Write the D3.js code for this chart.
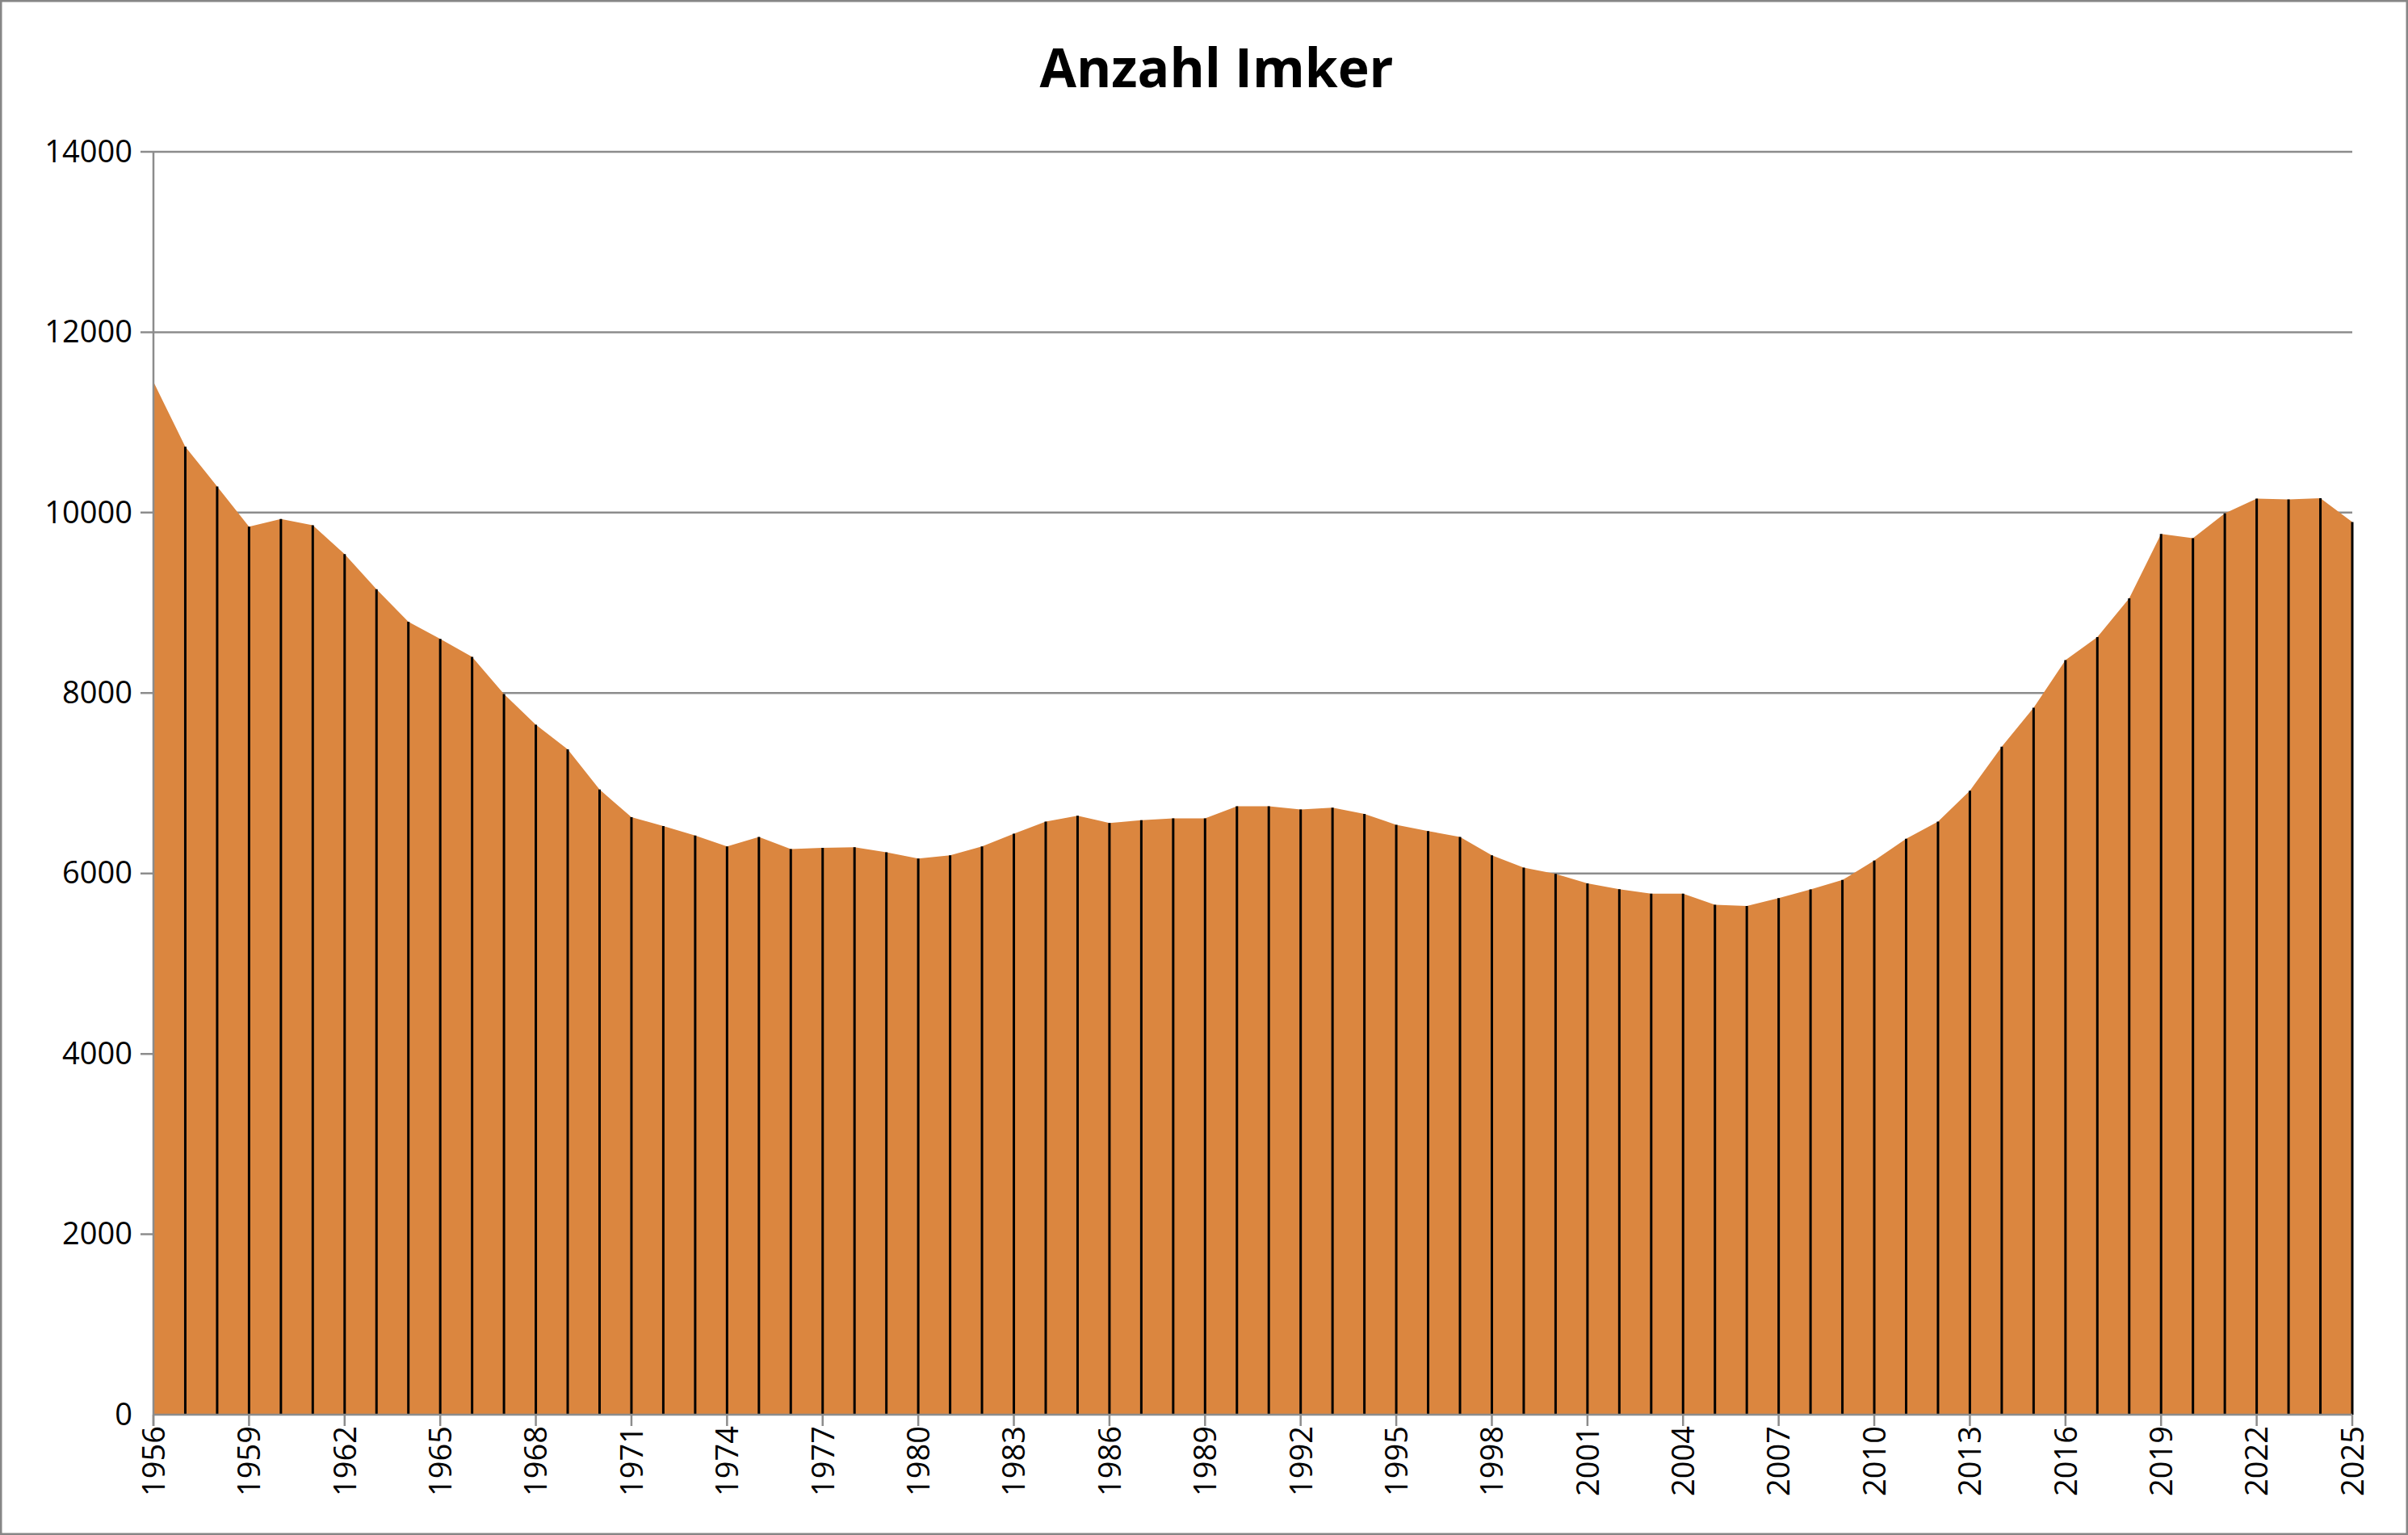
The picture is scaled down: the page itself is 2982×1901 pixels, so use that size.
<!DOCTYPE html><html><head><meta charset="utf-8">
<script src="https://cdn.jsdelivr.net/npm/d3@7"></script>
<style>body{margin:0;background:#fff}svg{display:block}</style></head><body>
<script>
const years = d3.range(1956, 2026);
const values = [11450,10730,10290,9845,9930,9860,9540,9150,8790,8600,8400,7990,7650,7375,6930,
6625,6525,6420,6300,6405,6270,6285,6290,6235,6165,6200,6300,6440,6575,6640,
6560,6590,6610,6610,6745,6745,6710,6730,6660,6540,6470,6405,6200,6065,5995,
5890,5825,5775,5775,5653,5640,5726,5822,5927,6142,6384,6575,6918,7406,7836,
8365,8621,9050,9763,9717,9991,10155,10146,10160,9895];
const yTicks = [0,2000,4000,6000,8000,10000,12000,14000];
const title = "Anzahl Imker";
const W=2982,H=1901, L=190, R=2913, T=188, B=1752;
const svg=d3.select("body").append("svg").attr("width",W).attr("height",H);
svg.append("rect").attr("x",1).attr("y",1).attr("width",W-2).attr("height",H-2).attr("fill","#fff").attr("stroke","#868686").attr("stroke-width",3);
const x=d3.scaleLinear().domain([1956,2025]).range([L,R]);
const y=d3.scaleLinear().domain([0,14000]).range([B,T]);
svg.append("g").selectAll("line").data(yTicks.slice(1)).join("line")
 .attr("x1",L-16).attr("x2",R).attr("y1",d=>y(d)).attr("y2",d=>y(d)).attr("stroke","#8c8c8c").attr("stroke-width",2.5);
const data=years.map((yr,i)=>({yr,v:values[i]}));
svg.append("path").datum(data).attr("fill","#DB863F")
 .attr("d",d3.area().x(d=>x(d.yr)).y0(y(0)).y1(d=>y(d.v)));
svg.append("g").selectAll("line").data(data.slice(1)).join("line")
 .attr("x1",d=>x(d.yr)).attr("x2",d=>x(d.yr)).attr("y1",y(0)).attr("y2",d=>y(d.v)).attr("stroke","#000").attr("stroke-width",3);
svg.append("line").attr("x1",L).attr("x2",L).attr("y1",T).attr("y2",B+14).attr("stroke","#8c8c8c").attr("stroke-width",2.5);
svg.append("line").attr("x1",L).attr("x2",R).attr("y1",B).attr("y2",B).attr("stroke","#8c8c8c").attr("stroke-width",2.5);
svg.append("g").selectAll("line").data(years.filter((d,i)=>i%3==0)).join("line")
 .attr("x1",d=>x(d)).attr("x2",d=>x(d)).attr("y1",B).attr("y2",B+14).attr("stroke","#8c8c8c").attr("stroke-width",2.5);
const ya=svg.append("g").attr("transform",`translate(${L},0)`).call(d3.axisLeft(y).tickValues(yTicks).tickSize(0).tickPadding(26).tickFormat(d3.format("d")));
ya.select(".domain").remove();
ya.selectAll("text").attr("font-family","'Open Sans', sans-serif").attr("font-size",38).attr("fill","#000");
const xa=svg.append("g").attr("transform",`translate(0,${B})`).call(d3.axisBottom(x).tickValues(years.filter((d,i)=>i%3==0)).tickSize(0).tickFormat(d3.format("d")));
xa.select(".domain").remove();
xa.selectAll("text").attr("font-family","'Open Sans', sans-serif").attr("font-size",38).attr("fill","#000")
 .attr("transform","rotate(-90)").attr("text-anchor","end").attr("x",-14).attr("y",0).attr("dy","0.35em");
svg.append("text").attr("x",(L+R)/2-45).attr("y",108).attr("text-anchor","middle")
 .attr("font-family","'Open Sans', sans-serif").attr("font-weight","bold").attr("font-size",66).text(title);
</script></body></html>
